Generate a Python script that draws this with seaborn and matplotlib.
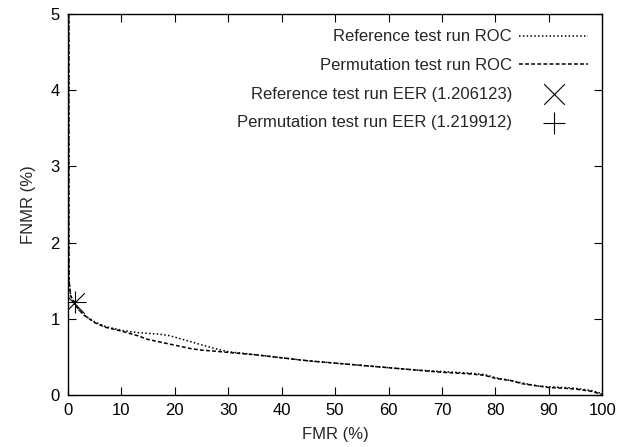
import matplotlib
matplotlib.use("Agg")
import matplotlib.pyplot as plt
import seaborn as sns
import pandas as pd

fmr = [0.15, 0.15, 0.2, 0.5, 1.2, 2, 3, 5, 7, 10, 13, 15, 17, 19, 21, 23, 25, 27, 30, 35, 40, 45,
       50, 55, 60, 65, 70, 75, 78, 80, 83, 85, 88, 90, 93, 95, 98, 100]
ref_fnmr = [5, 2.0, 1.5, 1.3, 1.206, 1.12, 1.05, 0.96, 0.9, 0.85, 0.82, 0.81, 0.8, 0.78, 0.74, 0.7,
            0.66, 0.62, 0.57, 0.53, 0.49, 0.45, 0.42, 0.39, 0.36, 0.33, 0.31, 0.29, 0.27, 0.23,
            0.19, 0.16, 0.12, 0.11, 0.1, 0.09, 0.06, 0.02]
perm_fnmr = [5, 2.0, 1.5, 1.3, 1.22, 1.12, 1.05, 0.95, 0.89, 0.84, 0.78, 0.73, 0.7, 0.67, 0.64, 0.61,
             0.59, 0.58, 0.56, 0.53, 0.49, 0.45, 0.42, 0.39, 0.36, 0.33, 0.3, 0.28, 0.26, 0.22,
             0.19, 0.15, 0.12, 0.1, 0.09, 0.08, 0.05, 0.01]
eer_ref = 1.206123
eer_perm = 1.219912

labels = ["Reference test run ROC", "Permutation test run ROC",
          "Reference test run EER (1.206123)", "Permutation test run EER (1.219912)"]

sns.set_style("ticks")
plt.rcParams['font.family'] = ['Liberation Sans', 'DejaVu Sans']

fig, ax = plt.subplots(figsize=(6.24, 4.47), dpi=100)
fig.subplots_adjust(left=0.109, right=0.965, top=0.969, bottom=0.116)

df_ref = pd.DataFrame({"FMR": fmr, "FNMR": ref_fnmr})
df_perm = pd.DataFrame({"FMR": fmr, "FNMR": perm_fnmr})

sns.lineplot(data=df_ref, x="FMR", y="FNMR", ax=ax, color="black", lw=1.1,
             linestyle=(0, (1, 1.5)), sort=False, estimator=None, label=labels[0])
sns.lineplot(data=df_perm, x="FMR", y="FNMR", ax=ax, color="black", lw=1.1,
             linestyle=(0, (2.5, 1.5)), sort=False, estimator=None, label=labels[1])
sns.scatterplot(x=[eer_ref], y=[eer_ref], ax=ax, marker="x", s=220, color="black",
                linewidth=0.8, label=labels[2])
sns.scatterplot(x=[eer_perm], y=[eer_perm], ax=ax, marker="+", s=260, color="black",
                linewidth=0.8, label=labels[3])

ax.set_xlim(0, 100)
ax.set_ylim(0, 5)
ax.set_xticks(range(0, 101, 10))
ax.set_yticks(range(0, 6))
ax.set_xlabel("FMR (%)", fontsize=12, labelpad=6)
ax.set_ylabel("FNMR (%)", fontsize=12, labelpad=10)
ax.tick_params(direction="in", top=True, right=True, length=6, width=0.8,
               labelsize=12, colors="black", pad=6)
for s in ax.spines.values():
    s.set_linewidth(1.0)
    s.set_color("black")

ax.legend(loc="upper right", frameon=False, markerfirst=False, fontsize=12,
          handlelength=4.1, labelspacing=0.82, borderaxespad=0.3, handletextpad=0.45,
          bbox_to_anchor=(0.995, 0.99))

fig.savefig("out.png", dpi=100)
